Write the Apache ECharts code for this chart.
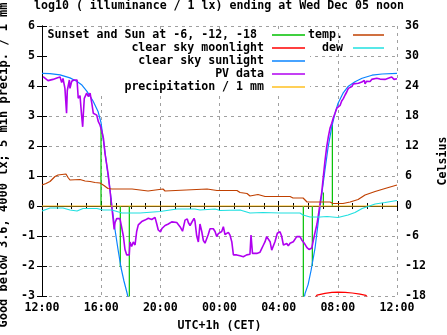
<!DOCTYPE html>
<html><head><meta charset="utf-8">
<script src="https://cdn.jsdelivr.net/npm/echarts@6/dist/echarts.min.js"></script>
<style>html,body{margin:0;padding:0;background:#fff}#c{width:447px;height:335px}</style>
</head><body><div id="c"></div>
<script>
// ---- tick labels ----
const xTickLabels = ['12:00','16:00','20:00','00:00','04:00','08:00','12:00'];
const leftTicks = [-3,-2,-1,0,1,2,3,4,5,6];
const rightTicks = [-18,-12,-6,0,6,12,18,24,30,36];

// ---- series names ----
const nameSunset = 'Sunset and Sun at -6, -12, -18';
const nameMoon = 'clear sky moonlight';
const nameSun = 'clear sky sunlight';
const namePV = 'PV data';
const namePrecip = 'precipitation / 1 mm';
const nameTemp = 'temp.';
const nameDew = 'dew';

// ---- data: x = hours after 12:00 ----
// sunset / sunrise events (impulses from 0 to clear-sky value)
const sunEventT = [3.99, 4.645, 5.294, 5.903, 17.667, 18.276, 19.02, 19.63];
const sunEventV = [2.72, 0.27, -2.03, -3.5, -3.5, -2.0, 0.45, 2.7];

const clearSkyMoon = [[18.40,-3.1],[18.59,-2.97],[19.13,-2.91],[19.60,-2.88],[20.01,-2.87],[20.50,-2.88],[20.97,-2.90],[21.50,-2.94],[21.90,-2.98],[22.10,-3.1]];

const clearSkySunEvening = [[0.00,4.42],[0.54,4.41],[1.22,4.37],[1.89,4.27],[2.37,4.15],[2.70,4.03],[3.04,3.82],[3.45,3.50],[3.79,3.15],[3.99,2.78],[4.19,2.05],[4.39,1.30],[4.60,0.55],[4.73,-0.02],[4.94,-0.80],[5.14,-1.45],[5.34,-2.05],[5.54,-2.50],[5.75,-2.90],[5.88,-3.20]];
const clearSkySunMorning = [[17.65,-3.30],[17.78,-2.92],[17.99,-2.62],[18.19,-2.15],[18.46,-1.40],[18.66,-0.60],[18.86,0.20],[19.13,1.20],[19.34,1.95],[19.59,2.64],[19.81,3.09],[20.01,3.42],[20.35,3.76],[20.69,3.98],[21.16,4.14],[21.64,4.26],[22.31,4.36],[22.99,4.40],[24.00,4.42]];

const pvData = [[0.07,4.31],[0.20,4.26],[0.41,4.18],[0.54,4.24],[0.74,4.22],[1.01,4.27],[1.22,4.30],[1.33,4.12],[1.42,4.25],[1.55,3.92],[1.66,3.09],[1.71,3.85],[1.85,4.20],[1.89,3.92],[2.01,4.16],[2.16,4.20],[2.37,4.20],[2.45,3.59],[2.57,3.68],[2.68,3.00],[2.75,2.64],[2.79,3.03],[2.86,3.59],[3.02,3.76],[3.13,3.65],[3.25,3.76],[3.36,3.45],[3.47,3.09],[3.58,3.03],[3.70,3.03],[3.81,2.81],[3.92,2.70],[4.04,2.50],[4.15,2.26],[4.26,1.75],[4.37,1.40],[4.48,1.03],[4.60,0.50],[4.71,0.00],[4.80,-0.40],[4.88,-0.78],[4.94,-0.55],[5.05,-0.42],[5.16,-0.37],[5.27,-0.42],[5.39,-0.40],[5.50,-1.00],[5.61,-1.45],[5.73,-1.63],[5.90,-1.63],[5.95,-1.20],[6.06,-1.35],[6.17,-1.20],[6.29,-1.30],[6.40,-0.85],[6.51,-0.63],[6.74,-0.52],[6.96,-0.47],[7.19,-0.41],[7.42,-0.45],[7.64,-0.38],[7.76,-0.60],[7.86,-0.80],[8.01,-0.86],[8.11,-0.75],[8.32,-0.65],[8.54,-0.60],[8.77,-0.53],[9.11,-0.55],[9.33,-0.69],[9.50,-0.84],[9.60,-0.80],[9.67,-0.47],[9.82,-0.43],[9.89,-0.55],[10.01,-0.65],[10.12,-0.55],[10.28,-0.41],[10.34,-0.50],[10.46,-1.00],[10.57,-1.20],[10.68,-0.60],[10.80,-0.85],[10.91,-1.15],[11.02,-1.24],[11.14,-1.30],[11.24,-0.95],[11.36,-0.76],[11.58,-0.76],[11.70,-0.85],[11.81,-1.02],[11.92,-0.92],[12.04,-0.97],[12.15,-0.85],[12.26,-0.69],[12.37,-0.95],[12.60,-0.88],[12.71,-0.97],[12.83,-1.19],[12.94,-1.63],[13.16,-1.63],[13.39,-1.66],[13.61,-1.69],[13.84,-1.63],[14.06,-1.61],[14.13,-0.97],[14.18,-1.00],[14.23,-1.58],[14.52,-1.58],[14.74,-1.54],[14.86,-1.41],[14.97,-1.30],[15.08,-1.19],[15.19,-1.02],[15.30,-1.02],[15.42,-1.19],[15.53,-1.47],[15.64,-1.47],[15.75,-1.19],[15.91,-0.91],[16.09,-0.86],[16.20,-1.00],[16.32,-1.30],[16.43,-1.36],[16.55,-1.25],[16.65,-1.33],[16.77,-1.24],[16.99,-1.19],[17.22,-1.02],[17.44,-1.02],[17.56,-1.13],[17.73,-1.24],[17.90,-1.38],[18.05,-1.45],[18.24,-1.40],[18.34,-1.15],[18.46,-0.88],[18.59,-0.60],[18.70,-0.25],[18.80,0.10],[18.91,0.45],[19.02,0.98],[19.13,1.50],[19.25,1.98],[19.36,2.31],[19.47,2.59],[19.59,2.76],[19.70,2.95],[19.81,3.09],[19.93,3.26],[20.03,3.29],[20.15,3.35],[20.26,3.50],[20.37,3.58],[20.49,3.70],[20.60,3.80],[20.71,3.92],[20.83,3.95],[20.94,3.98],[21.05,4.07],[21.16,4.05],[21.39,4.09],[21.62,4.13],[21.79,4.19],[21.84,4.07],[21.95,4.16],[22.18,4.15],[22.29,4.22],[22.40,4.27],[22.63,4.26],[22.85,4.23],[23.19,4.22],[23.41,4.26],[23.64,4.30],[23.80,4.22],[24.00,4.24]];

const precipitation = [[0,0],[6,0],[12,0],[18,0],[24,0]];

// Celsius
const temperature = [[0.00,4.2],[0.27,4.5],[0.54,4.9],[0.88,5.9],[1.08,6.2],[1.62,6.4],[1.76,5.7],[1.89,5.2],[2.57,5.3],[2.91,5.0],[3.25,4.9],[3.58,4.7],[3.92,4.6],[4.19,4.1],[4.46,3.5],[4.73,3.4],[6.09,3.4],[6.22,3.0],[7.17,3.0],[7.30,3.4],[8.18,3.4],[8.32,3.0],[8.45,3.4],[11.16,3.4],[11.83,3.1],[13.18,3.1],[13.39,2.7],[13.86,2.5],[14.06,2.0],[14.60,2.3],[15.08,1.9],[16.77,1.9],[16.97,1.6],[17.65,1.6],[17.92,0.8],[19.47,0.8],[19.68,0.5],[20.35,0.5],[20.83,0.8],[21.37,1.3],[21.84,2.2],[22.52,2.9],[23.19,3.5],[24.00,4.2]];
const dewPoint = [[0.00,-1.0],[0.54,-0.4],[1.42,-0.4],[1.89,-0.8],[2.37,-1.0],[2.77,-0.5],[3.72,-0.5],[4.12,-0.8],[4.73,-0.8],[5.07,-1.1],[5.41,-1.4],[6.63,-1.4],[7.98,-1.1],[9.13,-0.6],[10.34,-0.6],[10.68,-0.8],[11.70,-0.6],[12.04,-0.9],[13.39,-0.8],[14.06,-1.4],[14.94,-1.3],[16.09,-1.4],[17.44,-1.4],[17.65,-1.8],[18.12,-2.2],[18.80,-2.2],[19.27,-2.1],[20.01,-2.3],[20.69,-1.8],[21.16,-1.3],[21.64,-0.5],[22.04,-0.1],[22.52,0.4],[23.19,0.7],[24.00,1.1]];

// ---- build ----
const FONT = 'DejaVu Sans Mono';
const txt = {fontFamily: FONT, fontWeight: 'bold', fontSize: 11.6, color: '#000'};
const grid = {color: '#a0a0a0', width: 1, type: [3, 4]};

function line(name, data, color, width, yIdx) {
  return {name, type: 'line', data, yAxisIndex: yIdx || 0, showSymbol: false, symbol: 'none',
    color, itemStyle: {color}, lineStyle: {color, width}, connectNulls: false, animation: false, clip: true};
}

// one impulse series per sun event (same legend name)
const sunsetSeries = sunEventT.map((t, i) => line(nameSunset, [[t, 0], [t, sunEventV[i]]], '#00c000', 1.2));
const sunData = clearSkySunEvening.concat([[12, '-']], clearSkySunMorning);

const chart = echarts.init(document.getElementById('c'), null, {renderer: 'canvas'});
chart.setOption({
  animation: false,
  backgroundColor: '#fff',
  title: {text: 'log10 ( illuminance / 1 lx) ending at Wed Dec 05 noon', left: 34, top: 0, padding: 0,
    textStyle: Object.assign({}, txt)},
  grid: {left: 42, right: 50, top: 26, bottom: 39, containLabel: false, outerBoundsMode: 'none'},
  graphic: {elements: [{type: 'rect', z: 1, silent: true, shape: {x: 48, y: 32, width: 262, height: 61}, style: {fill: '#fff'}}]},
  legend: [
    {data: [nameSunset, nameMoon, nameSun, namePV, namePrecip], orient: 'vertical', align: 'right',
      right: 142, top: 28.5, padding: 0, itemGap: 0, itemWidth: 33, itemHeight: 1.5, icon: 'rect', selectedMode: false,
      formatter: n => n === nameSunset ? n + ' ' : n,
      textStyle: Object.assign({}, txt, {lineHeight: 13, padding: [0, 3, 0, 0]})},
    {data: [nameTemp, nameDew], orient: 'vertical', align: 'right',
      right: 63, top: 28.5, padding: 0, itemGap: 0, itemWidth: 31, itemHeight: 1.5, icon: 'rect', selectedMode: false,
      textStyle: Object.assign({}, txt, {lineHeight: 13, padding: [0, 5, 0, 0]})}
  ],
  xAxis: [
    {type: 'value', position: 'bottom', min: 0, max: 24, interval: 4,
      axisLine: {show: true, lineStyle: {color: '#000', width: 1}},
      axisTick: {show: true, inside: true, length: 5, lineStyle: {color: '#000'}},
      minorTick: {show: true, splitNumber: 4, length: 3, lineStyle: {color: '#000'}},
      splitLine: {show: true, lineStyle: grid},
      axisLabel: Object.assign({}, txt, {margin: 6, formatter: v => xTickLabels[Math.round(v / 4)]}),
      name: 'UTC+1h (CET)', nameLocation: 'middle', nameGap: 24, nameTextStyle: Object.assign({}, txt)},
    {type: 'value', position: 'top', min: 0, max: 24, interval: 4,
      axisLine: {show: true, lineStyle: {color: '#000', width: 1}},
      axisTick: {show: true, inside: true, length: 5, lineStyle: {color: '#000'}},
      minorTick: {show: true, splitNumber: 4, length: 3, lineStyle: {color: '#000'}},
      splitLine: {show: false}, axisLabel: {show: false}}
  ],
  yAxis: [
    {type: 'value', position: 'left', min: leftTicks[0], max: leftTicks[leftTicks.length - 1], interval: leftTicks[1] - leftTicks[0],
      axisLine: {show: true, lineStyle: {color: '#000', width: 1}},
      axisTick: {show: true, inside: true, length: 5, lineStyle: {color: '#000'}},
      splitLine: {show: true, lineStyle: grid},
      axisLabel: Object.assign({}, txt, {margin: 7}),
      name: 'Good below 3.6, 4000 lx; 5 min precip. / 1 mm', nameLocation: 'middle', nameGap: 27,
      nameTextStyle: Object.assign({}, txt, {fontSize: 12, padding: [0, 8, 0, 0]})},
    {type: 'value', position: 'right', min: rightTicks[0], max: rightTicks[rightTicks.length - 1], interval: rightTicks[1] - rightTicks[0],
      axisLine: {show: true, lineStyle: {color: '#000', width: 1}},
      axisTick: {show: true, inside: true, length: 5, lineStyle: {color: '#000'}},
      splitLine: {show: false},
      axisLabel: Object.assign({}, txt, {margin: 8}),
      name: 'Celsius', nameLocation: 'middle', nameRotate: 90, nameGap: 35, nameTextStyle: Object.assign({}, txt)}
  ],
  series: sunsetSeries.concat([
    line(nameMoon, clearSkyMoon, '#ff0000', 1.2),
    line(nameSun, sunData, '#0a84ff', 1.2),
    line(namePV, pvData, '#b000f0', 1.6),
    line(namePrecip, precipitation, '#ffc020', 1.2),
    line(nameTemp, temperature, '#c04000', 1.2, 1),
    line(nameDew, dewPoint, '#20e0e0', 1.2, 1)
  ])
});
</script></body></html>
